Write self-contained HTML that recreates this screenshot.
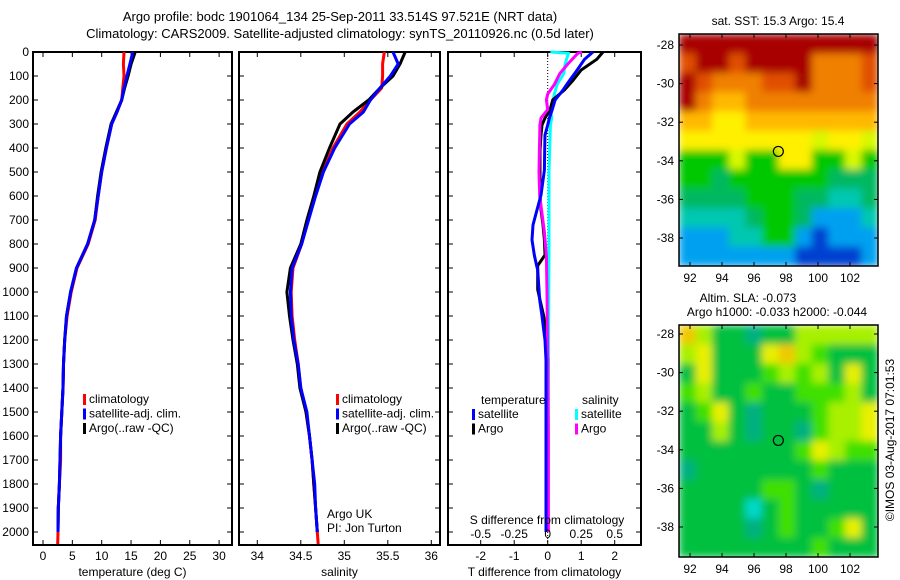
<!DOCTYPE html>
<html><head><meta charset="utf-8">
<style>
html,body{margin:0;padding:0;background:#fff;}
svg{display:block;font-family:"Liberation Sans",sans-serif;}
text{font-size:12px;fill:#000;}
</style></head>
<body>
<svg id="fig" width="900" height="580" viewBox="0 0 900 580" xmlns="http://www.w3.org/2000/svg">
<defs>
<filter id="soft" x="0" y="0" width="1" height="1"><feGaussianBlur stdDeviation="4" edgeMode="duplicate"/></filter>
<clipPath id="clipSst"><rect x="679" y="34" width="199" height="232"/></clipPath>
<clipPath id="clipSla"><rect x="679" y="325" width="199" height="232"/></clipPath>
</defs>
<rect width="900" height="580" fill="#fff"/>
<text x="340" y="21" text-anchor="middle" style="font-size:13px">Argo profile: bodc 1901064_134 25-Sep-2011 33.514S 97.521E (NRT data)</text>
<text x="340" y="38" text-anchor="middle" style="font-size:13px">Climatology: CARS2009. Satellite-adjusted climatology: synTS_20110926.nc (0.5d later)</text>
<g id="g"></g>
<text transform="translate(894,440) rotate(-90)" text-anchor="middle">©IMOS 03-Aug-2017 07:01:53</text>
</svg>
<script>
// ---- data ----
const depthTicks=[0,100,200,300,400,500,600,700,800,900,1000,1100,1200,1300,1400,1500,1600,1700,1800,1900,2000];
const tempTicks=[0,5,10,15,20,25,30];
const salTicks=[34,34.5,35,35.5,36];
const tdiffTicks=[-2,-1,0,1,2];
const sdiffTicks=[-0.5,-0.25,0,0.25,0.5];
const depths=[0,50,100,150,200,250,300,400,500,600,700,800,900,1000,1100,1200,1300,1400,1500,1600,1700,1800,1900,2000,2050];
const tempClim=[13.8,13.7,13.8,13.6,13.4,12.6,11.7,10.8,10.0,9.4,8.9,7.7,5.8,4.8,4.1,3.7,3.5,3.4,3.2,3.0,3.0,2.8,2.6,2.55,2.5];
const tempSat=[15.3,14.8,14.3,13.8,13.4,12.6,11.7,10.8,10.0,9.4,8.8,7.6,5.7,4.7,4.0,3.7,3.5,3.4,3.2,3.0,2.9,2.8,2.6,2.55];
const tempArgo=[15.7,15.0,14.5,13.9,13.4,12.5,11.6,10.7,9.9,9.3,8.8,7.6,5.7,4.7,4.0,3.7,3.5,3.4,3.2,3.0,2.9,2.8,2.6,2.55];
const salClim=[35.46,35.44,35.44,35.43,35.3,35.18,35.03,34.87,34.75,34.66,34.58,34.51,34.41,34.39,34.4,34.43,34.47,34.5,34.56,34.6,34.63,34.65,34.67,34.69,34.7];
const salSat=[35.56,35.62,35.53,35.41,35.3,35.22,35.06,34.89,34.76,34.67,34.59,34.51,34.4,34.38,34.39,34.42,34.47,34.5,34.57,34.6,34.63,34.66,34.67,34.69];
const salArgo=[35.7,35.64,35.56,35.41,35.28,35.1,34.95,34.83,34.72,34.65,34.57,34.5,34.38,34.34,34.37,34.41,34.46,34.49,34.56,34.6,34.63,34.65,34.67,34.69];
const tDiffDepths=[0,30,75,117,158,200,242,275,304,346,408,492,596,658,721,783,846,890,908,990,1033,1100,1158,1200,1283,1400,1600,1800,2000];
const tDiffSat=[1.35,1.1,0.88,0.66,0.46,0.22,0.13,0.05,0,-0.08,-0.09,-0.1,-0.2,-0.32,-0.44,-0.47,-0.4,-0.33,-0.3,-0.26,-0.24,-0.17,-0.12,-0.08,-0.05,-0.05,-0.05,-0.05,-0.05];
const tDiffArgo=[1.65,1.47,1.0,0.76,0.5,0.15,0.07,-0.08,-0.17,-0.2,-0.23,-0.23,-0.23,-0.2,-0.14,-0.1,-0.08,-0.3,-0.3,-0.3,-0.23,-0.12,-0.05,-0.03,0,0,-0.03,-0.02,-0.02];
const sDiffDepths=[0,5,50,90,135,175,200,240,275,304,500,600,750,850,1000,1300,1600,2000];
const sDiffSat=[0.02,0.155,0.13,0.12,0.07,0.05,0.04,0.02,0.03,0.02,0.01,0.01,0.01,0.01,0.008,0.006,0.005,0.003];
const sDiffArgo=[0.255,0.225,0.15,0.09,0.05,0,-0.01,0,-0.05,-0.058,-0.065,-0.06,-0.025,-0.01,-0.005,0,0.005,0.005];
const mapLons=[92,94,96,98,100,102];
const mapLats=[-28,-30,-32,-34,-36,-38];
const sstGrid=[
[10,10,10,10,10,10,10,10,10,10,10,10],
[9,10,10,9,10,10,10,10,8,8,8,9],
[10,9,8,8,8,9,9,10,8,8,8,9],
[10,8,7,7,8,8,8,8,8,8,8,8],
[7,7,6,6,7,7,7,7,7,7,7,7],
[6,6,6,6,6,6,6,6,5,6,6,5],
[4,4,4,5,4,4,6,6,4,4,5,4],
[4,4,3,4,4,4,4,4,4,3,3,3],
[3,3,3,3,4,4,4,3,3,2,2,3],
[2,2,2,2,3,4,4,3,1,1,1,2],
[1,1,1,2,2,4,4,1,0,1,1,1],
[1,1,1,1,1,1,1,0,0,0,0,1]];
const slaGrid=[
[5,3,1,1,0,1,1,3,3,3,3,3],
[3,4,1,1,1,4,5,3,2,1,1,1],
[1,4,1,1,1,2,3,2,3,1,4,1],
[2,3,1,1,2,1,1,2,2,2,3,1],
[1,2,4,1,0,1,1,1,2,3,3,4],
[1,1,3,1,0,1,1,0,2,3,3,4],
[1,1,1,1,1,1,1,2,4,3,2,2],
[0,1,1,1,1,1,1,1,2,1,1,1],
[1,1,1,1,1,2,2,1,0,1,1,1],
[1,1,1,1,6,1,2,1,1,1,1,1],
[1,1,1,1,0,1,2,1,1,2,4,1],
[1,1,1,1,1,1,1,1,2,1,1,1]];
const argoLon=97.521, argoLat=-33.514;
// ---- drawing ----
const NS='http://www.w3.org/2000/svg';
const G=document.getElementById('g');
function mk(tag,attrs,parent){const e=document.createElementNS(NS,tag);for(const k in attrs)e.setAttribute(k,attrs[k]);(parent||G).appendChild(e);return e;}
function txt(s,x,y,anchor,parent){const t=mk('text',{x:x,y:y,'text-anchor':anchor||'start'},parent);t.textContent=s;return t;}
const yD=d=>52+d*0.24;
const TOP=52,BOT=545;
function panel(name,x0,x1,xScale,ticks,fmt,label,leftLabels){
  const g=mk('g',{});
  
  
  const r=mk('rect',{x:x0,y:TOP,width:x1-x0,height:BOT-TOP,fill:'none',stroke:'#000','stroke-width':2},g);
  
  
  depthTicks.forEach(d=>{
    mk('line',{x1:x0,x2:x0+5,y1:yD(d),y2:yD(d),stroke:'#000'},g);
    mk('line',{x1:x1-5,x2:x1,y1:yD(d),y2:yD(d),stroke:'#000'},g);
    if(leftLabels){const t=txt(String(d),x0-4,yD(d)+4,'end',g);
      
      }
  });
  if(ticks){ticks.forEach(v=>{const x=xScale(v);
    mk('line',{x1:x,x2:x,y1:TOP,y2:TOP+5,stroke:'#000'},g);
    mk('line',{x1:x,x2:x,y1:BOT-5,y2:BOT,stroke:'#000'},g);
    const t=txt(fmt(v),x,BOT+15,'middle',g);
    
    });}
  if(label){const t=txt(label,(x0+x1)/2,BOT+31,'middle',g);
    
    }
  return g;
}
function line(name,xs,ds,xScale,color,w){
  let p='';for(let i=0;i<xs.length;i++){p+=(i?'L':'M')+xScale(xs[i]).toFixed(1)+','+yD(ds[i]).toFixed(1);}
  const e=mk('path',{d:p,fill:'none',stroke:color,'stroke-width':w||3,'stroke-linejoin':'round'});
  
  
}
function legend(items,x,y){items.forEach((it,i)=>{
  const r=mk('rect',{x:x,y:y+i*14.5-9,width:3,height:11,fill:it[1]});
  
  
  const t=txt(it[0],x+6,y+i*14.5);
  
  });}
// panel 1 temperature
const xT=v=>43+5.87*v;
panel('temperature-panel',33,232,xT,tempTicks,String,'temperature (deg C)',true);
line('temp-climatology',tempClim,depths,xT,'#f00');
line('temp-argo',tempArgo,depths,xT,'#000');
line('temp-satellite',tempSat,depths,xT,'#00f');
legend([['climatology','#f00'],['satellite-adj. clim.','#00f'],['Argo(..raw -QC)','#000']],83,403);
// panel 2 salinity
const xS=v=>257.3+87*(v-34);
panel('salinity-panel',239,440,xS,salTicks,String,'salinity',false);
line('sal-climatology',salClim,depths,xS,'#f00');
line('sal-argo',salArgo,depths,xS,'#000');
line('sal-satellite',salSat,depths,xS,'#00f');
legend([['climatology','#f00'],['satellite-adj. clim.','#00f'],['Argo(..raw -QC)','#000']],336,403);
let t1=txt('Argo UK',327,518);
let t2=txt('PI: Jon Turton',327,532);
// panel 3 differences
const xTd=v=>547.7+33.5*v;
const xSd=v=>xTd(v*4);
panel('difference-panel',448,641,xTd,tdiffTicks,String,'T difference from climatology',false);
const zl=mk('line',{x1:xTd(0),x2:xTd(0),y1:TOP,y2:BOT,stroke:'#000','stroke-dasharray':'1,2'});

line('s-diff-satellite',sDiffSat,sDiffDepths,xSd,'#0ff');
line('t-diff-argo',tDiffArgo,tDiffDepths,xTd,'#000');
line('s-diff-argo',sDiffArgo,sDiffDepths,xSd,'#f0f');
line('t-diff-satellite',tDiffSat,tDiffDepths,xTd,'#00f');
sdiffTicks.forEach(v=>{const t=txt(String(v),xSd(v),BOT-7,'middle');
  });
let t3=txt('S difference from climatology',547,524,'middle');
let t4=txt('temperature',481,404);
let t5=txt('salinity',582,404);
legend([['satellite','#00f'],['Argo','#000']],472,418);
legend([['satellite','#0ff'],['Argo','#f0f']],575,418);
// maps
const sstCols=['#0040d0','#00a0f0','#00c8b0','#00b860','#00c800','#d8f800','#fff000','#ffb800','#f08000','#e05000','#a80000'];
const slaCols=['#00b080','#00c040','#40e000','#a8f000','#e8f000','#f0c800','#00d8c8'];
function map(name,grid,cols,top,lat28,lat38,clip){
  const x0=679,x1=878,bot=top+232;
  const xL=l=>690+16*(l-92);
  const yL=l=>lat28+(lat38-lat28)*(l+28)/(-10);
  const g=mk('g',{});
  
  
  const cg=mk('g',{'clip-path':'url(#'+clip+')'},g);
  const fg=mk('g',{filter:'url(#soft)'},cg);
  const nr=grid.length,nc=grid[0].length,cw=(x1-x0)/nc,ch=(bot-top)/nr;
  grid.forEach((row,i)=>row.forEach((v,j)=>{
    const c=mk('rect',{x:(x0+j*cw).toFixed(2),y:(top+i*ch).toFixed(2),width:(cw+0.6).toFixed(2),height:(ch+0.6).toFixed(2),fill:cols[v]},fg);
    
    
  }));
  mk('rect',{x:x0,y:top,width:x1-x0,height:bot-top,fill:'none',stroke:'#000','stroke-width':1.5},g);
  mapLons.forEach(l=>{const x=xL(l);mk('line',{x1:x,x2:x,y1:top,y2:top+4,stroke:'#000'},g);mk('line',{x1:x,x2:x,y1:bot-4,y2:bot,stroke:'#000'},g);
    const t=txt(String(l),x,bot+16,'middle',g);});
  mapLats.forEach(l=>{const y=yL(l);mk('line',{x1:x0,x2:x0+4,y1:y,y2:y,stroke:'#000'},g);mk('line',{x1:x1-4,x2:x1,y1:y,y2:y,stroke:'#000'},g);
    const t=txt(String(l),x0-5,y+4,'end',g);});
  const m=mk('circle',{cx:xL(argoLon),cy:yL(argoLat),r:5,fill:'none',stroke:'#000','stroke-width':1.2},g);
  
  
}
map('sst-map',sstGrid,sstCols,34,45,238,'clipSst');
map('sla-map',slaGrid,slaCols,325,334,527,'clipSla');
let t6=txt('sat. SST: 15.3 Argo: 15.4',778,25,'middle');
let t7=txt('Altim. SLA: -0.073',748,302,'middle');
let t8=txt('Argo h1000: -0.033 h2000: -0.044',777,316,'middle');
</script>
</body></html>
